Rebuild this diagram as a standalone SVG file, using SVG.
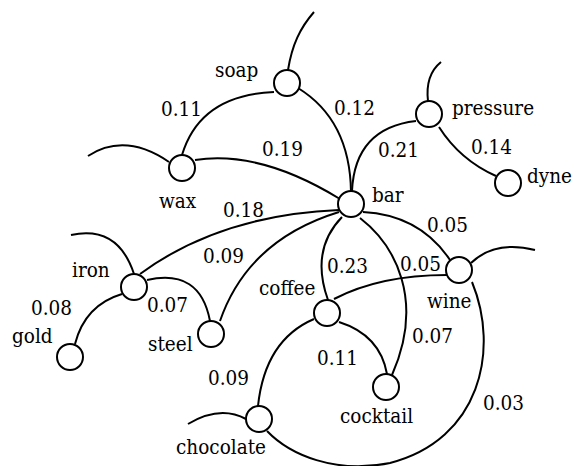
<svg xmlns="http://www.w3.org/2000/svg" width="576" height="466" viewBox="0 0 576 466">
<style>
.e{fill:none;stroke:#000;stroke-width:2}
.n{fill:#fff;stroke:#000;stroke-width:2}
text{font-family:"DejaVu Serif Condensed","DejaVu Serif",serif;font-stretch:condensed;font-size:20.5px;fill:#000}
</style>
<rect width="576" height="466" fill="#fff"/>
<g id="connectors">
<path class="e" d="M288 70 C292 45 300 28 314 12"/>
<path class="e" d="M274 92 Q200 95 182 155"/>
<path class="e" d="M169 162 Q125 132 88 156"/>
<path class="e" d="M195 160 Q260 150 340 199"/>
<path class="e" d="M298 88 Q350 120 351 192"/>
<path class="e" d="M428 101 Q425 75 441 62"/>
<path class="e" d="M352 191 Q355 128 416 121"/>
<path class="e" d="M439 127 Q460 160 496 176"/>
<path class="e" d="M140 274 Q220 215 339 210"/>
<path class="e" d="M134 274 Q118 225 71 235"/>
<path class="e" d="M122 294 Q85 305 75 344"/>
<path class="e" d="M147 280 Q200 268 210 321"/>
<path class="e" d="M220 321 Q248 240 339 212"/>
<path class="e" d="M342 217 Q310 250 328 300"/>
<path class="e" d="M360 218 C395 245 425 300 392 375"/>
<path class="e" d="M363 212 Q420 215 450 260"/>
<path class="e" d="M334 299 Q380 275 447 275"/>
<path class="e" d="M471 263 Q495 240 535 250"/>
<path class="e" d="M472 282 C500 350 480 440 390 463 C335 474 290 455 267 431"/>
<path class="e" d="M314 319 Q265 340 258 406"/>
<path class="e" d="M339 322 Q380 335 387 374"/>
<path class="e" d="M246 419 Q220 405 188 424"/>
</g>
<g id="labels">
<text x="161" y="116">0.11</text>
<text x="334" y="115">0.12</text>
<text x="262" y="156">0.19</text>
<text x="378" y="157">0.21</text>
<text x="471" y="154">0.14</text>
<text x="223" y="217">0.18</text>
<text x="203" y="263">0.09</text>
<text x="31" y="315">0.08</text>
<text x="147" y="312">0.07</text>
<text x="327" y="273">0.23</text>
<text x="400" y="271">0.05</text>
<text x="427" y="232">0.05</text>
<text x="412" y="343">0.07</text>
<text x="317" y="365">0.11</text>
<text x="208" y="385">0.09</text>
<text x="483" y="410">0.03</text>
</g>
<g id="soap"><circle class="n" cx="287" cy="83" r="13"/><text x="215" y="77">soap</text></g>
<g id="wax"><circle class="n" cx="182" cy="168" r="13"/><text x="159" y="208">wax</text></g>
<g id="bar"><circle class="n" cx="351" cy="204" r="13"/><text x="372" y="202">bar</text></g>
<g id="pressure"><circle class="n" cx="429" cy="114" r="13"/><text x="452" y="115">pressure</text></g>
<g id="dyne"><circle class="n" cx="508" cy="183" r="13"/><text x="527" y="183">dyne</text></g>
<g id="iron"><circle class="n" cx="134" cy="287" r="13"/><text x="72" y="277">iron</text></g>
<g id="steel"><circle class="n" cx="211" cy="334" r="13"/><text x="148" y="351">steel</text></g>
<g id="gold"><circle class="n" cx="70" cy="357" r="13"/><text x="12" y="343">gold</text></g>
<g id="coffee"><circle class="n" cx="327" cy="313" r="13"/><text x="259" y="295">coffee</text></g>
<g id="wine"><circle class="n" cx="459" cy="270" r="13"/><text x="427" y="308">wine</text></g>
<g id="cocktail"><circle class="n" cx="386" cy="387" r="13"/><text x="340" y="423">cocktail</text></g>
<g id="chocolate"><circle class="n" cx="259" cy="419" r="13"/><text x="176" y="454">chocolate</text></g>
</svg>
